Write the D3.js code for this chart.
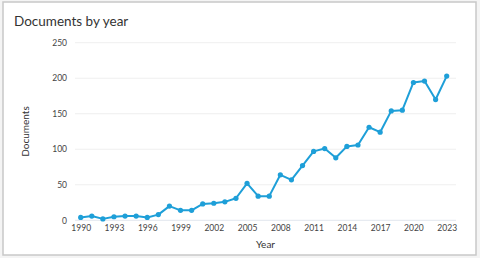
<!DOCTYPE html>
<html><head><meta charset="utf-8">
<script src="https://cdn.jsdelivr.net/npm/d3@7"></script>
<style>
html,body{margin:0;padding:0;background:#f4f4f4;}
svg{display:block;}
text{font-family:Lato,"Open Sans",sans-serif;}
</style></head>
<body>
<svg id="c" width="480" height="258"></svg>
<script>
const years = [1990,1991,1992,1993,1994,1995,1996,1997,1998,1999,2000,2001,2002,2003,2004,2005,2006,2007,2008,2009,2010,2011,2012,2013,2014,2015,2016,2017,2018,2019,2020,2021,2022,2023];
const documents = [4,6,2,5,6,6,4,8,20,14,14,23,24,26,31,52,34,34,64,57,77,97,101,88,104,106,131,124,154,155,194,196,170,203];
const xTicks = [1990,1993,1996,1999,2002,2005,2008,2011,2014,2017,2020,2023];
const yTicks = [0,50,100,150,200,250];
const title = "Documents by year";
const xLabel = "Year";
const yLabel = "Documents";

const svg = d3.select("#c");
// card
svg.append("rect").attr("x",3).attr("y",2).attr("width",473).attr("height",253)
  .attr("fill","#fff").attr("stroke","#c8c8c8").attr("stroke-width",1.5);

const x = d3.scaleLinear().domain([1990,2023]).range([80.7,446.7]);
const y = d3.scaleLinear().domain([0,250]).range([220.3,42.7]);
const gx0 = 75, gx1 = 456;

// gridlines
svg.append("g").selectAll("line").data(yTicks).join("line")
  .attr("x1",gx0).attr("x2",gx1)
  .attr("y1",d=>y(d)).attr("y2",d=>y(d))
  .attr("stroke",d=>d===0?"#e2e6ee":"#efefef").attr("stroke-width",1);

// y axis labels
const yAxis = d3.axisLeft(y).tickValues(yTicks).tickSize(0).tickPadding(0);
const gy = svg.append("g").attr("transform","translate(67,0)").call(yAxis);
gy.select(".domain").remove();
gy.selectAll("text").attr("font-size",8.5).attr("fill","#444").attr("font-family","Lato,sans-serif").attr("dy","0.32em");

// x axis labels
const xAxis = d3.axisBottom(x).tickValues(xTicks).tickFormat(d3.format("d")).tickSize(0).tickPadding(0);
const gxa = svg.append("g").attr("transform","translate(0,225)").call(xAxis);
gxa.select(".domain").remove();
gxa.selectAll("text").attr("font-size",8.5).attr("fill","#444").attr("font-family","Lato,sans-serif");

// line
const data = years.map((yr,i)=>({yr, v:documents[i]}));
svg.append("path").datum(data)
  .attr("fill","none").attr("stroke","#1e9fd8").attr("stroke-width",2).attr("stroke-linejoin","round")
  .attr("d", d3.line().x(d=>x(d.yr)).y(d=>y(d.v)));
svg.append("g").selectAll("circle").data(data).join("circle")
  .attr("cx",d=>x(d.yr)).attr("cy",d=>y(d.v)).attr("r",2.6).attr("fill","#1e9fd8");

// title and labels
svg.append("text").attr("x",14).attr("y",25.5).attr("font-size",13.5).attr("fill","#333").text(title);
svg.append("text").attr("x",265.5).attr("y",248).attr("text-anchor","middle").attr("font-size",10).attr("fill","#333").text(xLabel);
svg.append("text").attr("transform","translate(28.5,131.5) rotate(-90)").attr("text-anchor","middle").attr("font-size",10).attr("fill","#333").text(yLabel);
</script>
</body></html>
